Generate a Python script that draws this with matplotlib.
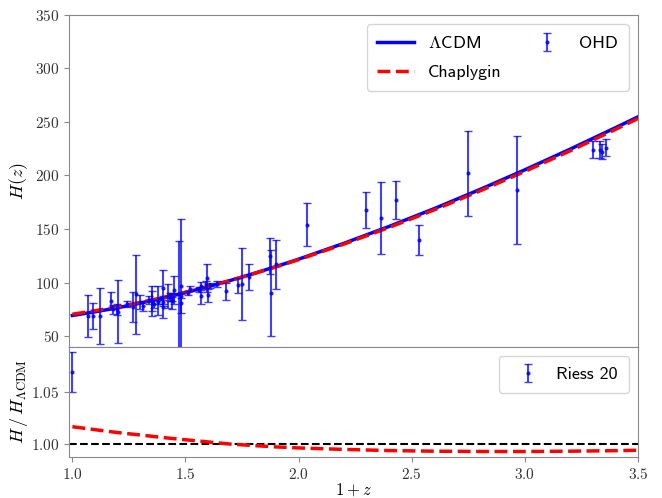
import numpy as np
import matplotlib
matplotlib.use("Agg")
import matplotlib.pyplot as plt

plt.rcParams['mathtext.fontset'] = 'cm'
plt.rcParams['font.family'] = 'serif'
plt.rcParams['font.serif'] = ['cmr10']
plt.rcParams['axes.formatter.use_mathtext'] = True
plt.rcParams['axes.unicode_minus'] = False

# model curves
x_mod = [1.0, 1.1, 1.2, 1.3, 1.4, 1.5, 1.6, 1.7, 1.8, 1.9, 2.0,
         2.2, 2.4, 2.6, 2.8, 3.0, 3.2, 3.4, 3.5]
H_lcdm = [69.2, 72.6, 76.4, 80.7, 85.4, 90.6, 96.1, 102.0, 108.3, 114.9, 121.8,
          136.6, 152.4, 169.1, 186.8, 205.3, 224.6, 244.6, 254.8]
H_chap = [70.35, 73.6, 77.24, 81.4, 85.93, 90.97, 96.29, 101.99, 108.14, 114.58, 121.34,
          135.89, 151.44, 167.93, 185.46, 203.82, 223.05, 243.03, 253.27]

# OHD compilation (z, H, sigma)
z_ohd = [0.07, 0.09, 0.12, 0.17, 0.179, 0.199, 0.2, 0.27, 0.28, 0.352, 0.3802, 0.4,
         0.4004, 0.4247, 0.4497, 0.47, 0.4783, 0.48, 0.593, 0.68, 0.75, 0.781, 0.875,
         0.88, 0.9, 1.037, 1.3, 1.363, 1.43, 1.53, 1.75, 1.965,
         0.24, 0.3, 0.31, 0.34, 0.35, 0.36, 0.38, 0.4, 0.43, 0.44, 0.44, 0.48, 0.51,
         0.52, 0.56, 0.57, 0.57, 0.59, 0.6, 0.61, 0.64, 0.73, 2.3, 2.33, 2.34, 2.36]
H_ohd = [69, 69, 68.6, 83, 75, 75, 72.9, 77, 88.8, 83, 83, 95,
         77, 87.1, 92.8, 89, 80.9, 97, 104, 92, 98.8, 105, 125,
         90, 117, 154, 168, 160, 177, 140, 202, 186.5,
         79.69, 81.7, 78.18, 83.8, 82.7, 79.94, 81.5, 82.04, 86.45, 82.6, 84.81, 87.79, 90.4,
         94.35, 93.34, 87.6, 96.8, 98.48, 87.9, 97.3, 98.82, 97.3, 224, 224, 222, 226]
sig_ohd = [19.6, 12, 26.2, 8, 4, 5, 29.6, 14, 36.6, 14, 13.5, 17,
           10.2, 11.2, 12.9, 50, 9, 62, 13, 8, 33.6, 12, 17,
           40, 23, 20, 17, 33.6, 18, 14, 40, 50.4,
           2.99, 6.22, 4.74, 3.66, 9.1, 3.38, 1.9, 2.03, 3.68, 7.8, 1.83, 2.03, 1.9,
           2.64, 2.3, 7.8, 3.4, 3.18, 6.1, 2.1, 2.98, 7, 8, 8, 7, 8]

# Riess 20 ratio
x_riess = [1.0]
r_riess = [1.069]
s_riess = [0.019]

x_mod = np.array(x_mod)
ratio = np.array(H_chap) / np.array(H_lcdm)
x_ohd = 1 + np.array(z_ohd)

fig = plt.figure(figsize=(6.62, 4.98), dpi=100)
ax1 = fig.add_axes([0.1042, 0.3038, 0.8595, 0.6661])
ax2 = fig.add_axes([0.1042, 0.0823, 0.8595, 0.2215], sharex=ax1)

for ax in (ax1, ax2):
    for sp in ax.spines.values():
        sp.set_color('#888888')
    ax.tick_params(colors='#888888', labelcolor='#333333', labelsize=11)

leg_font = {'family': 'cmss10', 'size': 13}

ax1.plot(x_mod, H_lcdm, color='b', lw=2.5, label=r'$\Lambda$CDM')
ax1.plot(x_mod, H_chap, color='r', lw=2.5, ls='--', label='Chaplygin')
ax1.errorbar(x_ohd, H_ohd, yerr=sig_ohd, fmt='.', color='b', ms=4,
             elinewidth=1.5, capsize=3, alpha=0.75, label='OHD')
ax1.set_ylim(40, 350)
ax1.set_ylabel(r'$H(z)$', fontsize=13)
ax1.tick_params(axis='x', which='both', bottom=False, labelbottom=False)
ax1.legend(loc='upper right', ncol=2, prop=leg_font, labelspacing=0.75,
           handletextpad=0.8, columnspacing=1.5, borderpad=0.6)

ax2.axhline(1.0, color='k', ls='--', lw=1.5)
ax2.plot(x_mod, ratio, color='r', ls='--', lw=2.5)
ax2.errorbar(x_riess, r_riess, yerr=s_riess, fmt='.', color='b', ms=4,
             elinewidth=1.5, capsize=3, alpha=0.75, label='Riess 20')
ax2.set_ylim(0.9875, 1.0935)
ax2.set_yticks([1.00, 1.05])
ax2.set_xlim(0.985, 3.5)
ax2.set_xlabel(r'$1+z$', fontsize=12, labelpad=0)
ax2.set_ylabel(r'$H\,/\,H_{\Lambda\rm CDM}$', fontsize=13)
ax2.legend(loc='upper right', prop=leg_font, handletextpad=0.6, borderpad=0.6)
ax1.yaxis.set_label_coords(-0.068, 0.5)
ax2.yaxis.set_label_coords(-0.068, 0.5)

plt.savefig('out.png', dpi=100)
